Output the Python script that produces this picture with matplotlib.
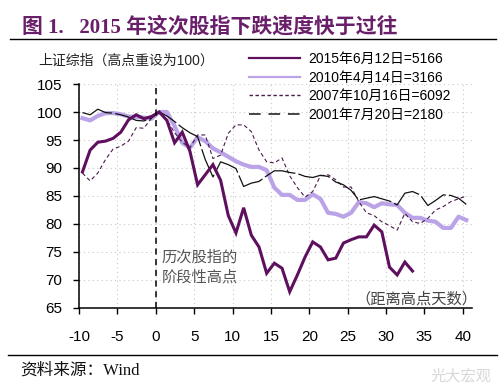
import numpy as np
import matplotlib
matplotlib.use("Agg")
import matplotlib.pyplot as plt
from matplotlib.lines import Line2D

# ---------------- data ----------------
days_2015 = list(range(-10, 34))
vals_2015 = [89.3, 93.2, 94.6, 94.8, 95.3, 96.4, 98.6, 99.5, 98.8, 99.2, 100.0,
             98.5, 94.5, 96.4, 93.0, 87.0, 88.8, 90.6, 87.8, 81.5, 78.4,
             82.9, 78.0, 75.9, 71.2, 73.0, 72.1, 67.9, 70.9, 74.1, 76.8,
             75.9, 73.6, 73.9, 76.6, 77.2, 77.7, 77.7, 79.8, 78.6, 72.3,
             70.9, 73.2, 71.6]

days_long = list(range(-10, 41))
vals_2010 = [98.9, 98.5, 99.3, 99.8, 99.8, 99.6, 99.2, 99.1, 99.0, 98.8, 100.0,
             100.0, 97.5, 94.5, 93.6, 95.5, 94.8, 93.5, 92.8, 92.0, 91.2,
             90.6, 90.2, 90.2, 89.6, 86.5, 85.2, 85.2, 84.3, 84.3, 85.3,
             84.5, 82.0, 81.8, 81.3, 82.0, 83.9, 83.7, 83.0, 83.7, 83.5,
             83.4, 82.0, 81.1, 81.1, 80.6, 80.4, 79.3, 79.3, 81.3, 80.7]
vals_2007 = [89.1, 87.7, 89.1, 91.5, 93.4, 93.9, 94.8, 97.2, 97.1, 98.9, 100.0,
             98.6, 96.3, 94.6, 93.6, 95.9, 95.9, 91.7, 92.3, 96.2, 97.7,
             97.7, 96.5, 93.2, 91.1, 90.9, 91.8, 88.6, 86.5, 84.8, 85.8,
             88.6, 88.8, 87.9, 86.6, 86.6, 84.0, 82.0, 81.5, 80.4, 79.7,
             78.9, 81.9, 80.4, 80.1, 81.0, 82.5, 83.1, 84.0, 84.5, 85.0]
vals_2001 = [99.9, 99.5, 100.5, 99.9, 99.8, 99.5, 99.1, 98.5, 98.4, 98.9, 100.0,
             99.3, 98.3, 97.2, 96.3, 95.6, 91.5, 88.4, 91.1, 90.6, 89.9,
             86.7, 87.3, 87.6, 88.6, 89.5, 89.5, 89.2, 89.0, 88.5, 88.3,
             88.7, 88.5, 87.5, 87.0, 86.0, 84.3, 84.6, 84.9, 84.5, 84.1,
             83.4, 85.5, 85.8, 85.2, 83.3, 84.2, 85.2, 85.1, 84.6, 83.5]

labels = ["2015年6月12日=5166", "2010年4月14日=3166",
          "2007年10月16日=6092", "2001年7月20日=2180"]
xticks = list(range(-10, 41, 5))
yticks = list(range(65, 106, 5))

# ---------------- style ----------------
CJK = ['Liberation Sans', 'Noto Sans CJK SC']
plt.rcParams['font.family'] = CJK
C2015 = '#5E0F5E'
C2010 = '#BBA3E8'
C2007 = '#4A1A4A'
C2001 = '#111111'
OFF = 0.45  # data points sit slightly right of the category ticks

fig = plt.figure(figsize=(5.02, 3.86), dpi=100)
ax = fig.add_axes([79/502, 1-308/386, (472-79)/502, (308-84)/386])

ax.plot(np.array(days_long) + OFF, vals_2010, color=C2010, lw=3.0,
        solid_joinstyle='round', zorder=3)
ax.plot(np.array(days_long) + OFF, vals_2007, color=C2007, lw=0.8,
        dashes=(3.5, 2.5), zorder=4)
ax.plot(np.array(days_long) + OFF, vals_2001, color=C2001, lw=0.9,
        dashes=(26, 2.5), zorder=4)
ax.plot(np.array(days_2015) + OFF, vals_2015, color=C2015, lw=2.2,
        solid_joinstyle='miter', zorder=5)

ax.axvline(0, color='black', lw=1.1, dashes=(4, 3), zorder=6)

ax.set_xlim(-10, 41.2)
ax.set_ylim(65, 105)
ax.set_xticks(xticks)
ax.set_yticks(yticks)
ax.set_xticklabels([str(t) for t in xticks])
ax.set_yticklabels([str(t) for t in yticks])
ax.tick_params(axis='both', labelsize=11, direction='out', length=4,
               width=1, colors='black')
ax.tick_params(axis='x', pad=12)
ax.tick_params(axis='y', pad=8)
for s in ['top', 'right']:
    ax.spines[s].set_visible(False)
for s in ['left', 'bottom']:
    ax.spines[s].set_linewidth(1.1)
ax.grid(True, color='#C8C8C8', lw=0.8, linestyle=(0, (1, 3)))
ax.set_axisbelow(True)

ax.text(0.8, 72.3, "历次股指的\n阶段性高点", fontsize=11, color='#555555',
        va='center', ha='left', linespacing=1.45, family=CJK)
ax.text(41.9, 66.6, "（距离高点天数）", fontsize=11, color='#444444',
        va='center', ha='right', family=CJK)

# legend
handles = [Line2D([], [], color=C2015, lw=1.6),
           Line2D([], [], color=C2010, lw=1.6),
           Line2D([], [], color=C2007, lw=1.0, dashes=(2.5, 1.8)),
           Line2D([], [], color='#444444', lw=1.4, dashes=(6, 4))]
fig.legend(handles, labels, loc='upper left',
           bbox_to_anchor=(249/502, 1-52/386), frameon=False,
           fontsize=10, handlelength=3.7, handletextpad=0.6,
           labelspacing=0.33, borderpad=0, borderaxespad=0)

# header / footer
fig.text(22/502, 1-27/386, "图 1.   2015 年这次股指下跌速度快于过往",
         fontsize=15, fontweight='bold', color='#6A1F6A',
         family=['Liberation Serif', 'Noto Sans CJK SC'], va='center', ha='left')
fig.add_artist(Line2D([10/502, 496/502], [1-39/386, 1-39/386],
                      color='black', lw=1.0, transform=fig.transFigure))
fig.text(38/502, 1-61/386, "上证综指（高点重设为100）", fontsize=10,
         color='#222222', va='center', ha='left', family=CJK)
fig.add_artist(Line2D([8/502, 497/502], [1-355/386, 1-355/386],
                      color='black', lw=1.0, transform=fig.transFigure))
fig.text(20/502, 1-371/386, "资料来源：Wind", fontsize=12, color='#111111',
         va='center', ha='left', family=['Liberation Serif', 'Noto Sans CJK SC'])
fig.text(430/502, 1-376/386, "光大宏观", fontsize=11, color='#D8D8D8',
         va='center', ha='left', family=CJK)

fig.savefig("out.png", dpi=100)
